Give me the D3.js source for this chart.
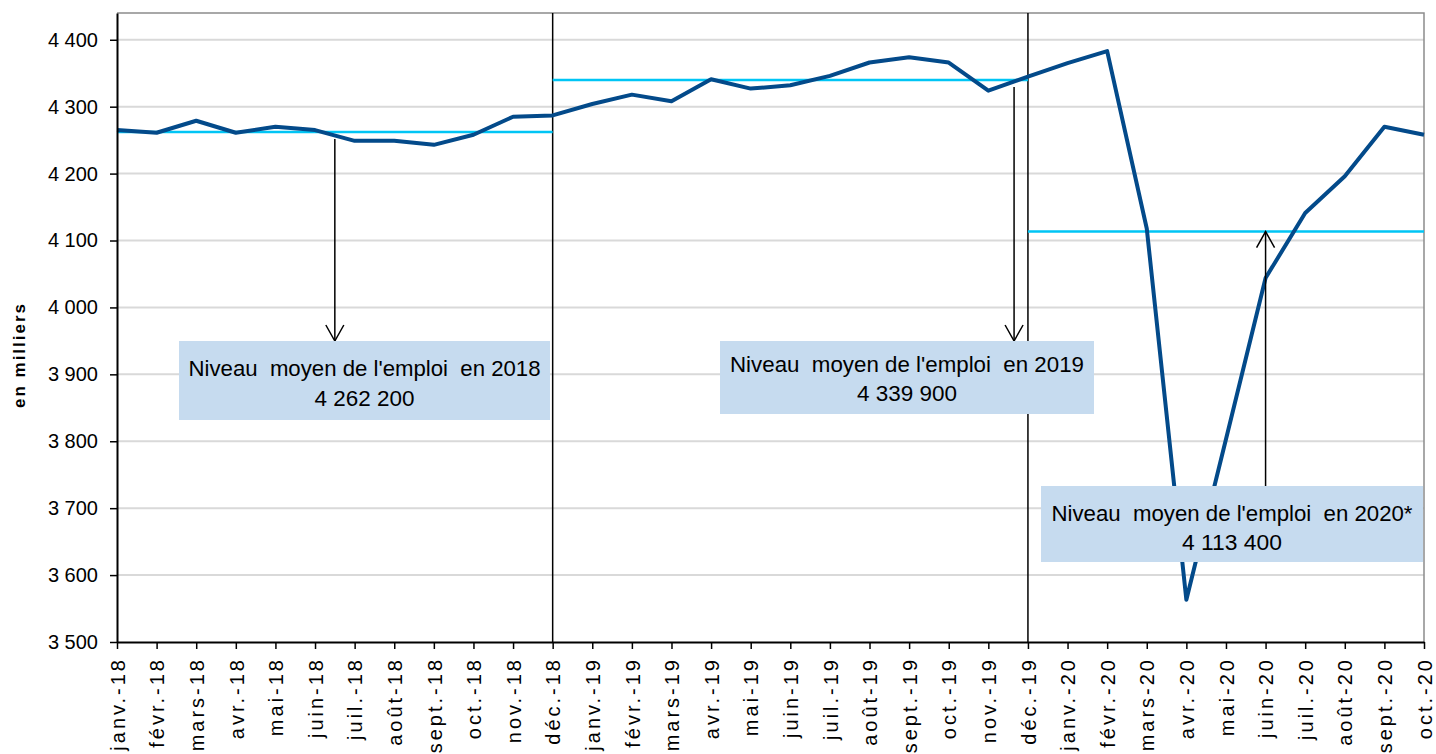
<!DOCTYPE html>
<html>
<head>
<meta charset="utf-8">
<script src="https://cdn.jsdelivr.net/npm/d3@7"></script>
<style>
  body { margin: 0; background: #fff; }
  svg { font-family: "Liberation Sans", Arial, sans-serif; }
</style>
</head>
<body>
<svg id="chart" width="1436" height="754"></svg>
<script>
const months = ["janv.-18","févr.-18","mars-18","avr.-18","mai-18","juin-18","juil.-18","août-18","sept.-18","oct.-18","nov.-18","déc.-18",
  "janv.-19","févr.-19","mars-19","avr.-19","mai-19","juin-19","juil.-19","août-19","sept.-19","oct.-19","nov.-19","déc.-19",
  "janv.-20","févr.-20","mars-20","avr.-20","mai-20","juin-20","juil.-20","août-20","sept.-20","oct.-20"];
const emploi = [4265,4261,4279,4261,4270,4265,4249,4249,4243,4258,4285,4287,
  4304,4318,4308,4341,4327,4332,4346,4366,4374,4366,4324,4345,
  4365,4383,4118,3563,3803,4044,4141,4196,4270,4258];
const yTicks = [3500,3600,3700,3800,3900,4000,4100,4200,4300,4400];
const separations = ["déc.-18","déc.-19"];
const annees = ["2018","2019","2020*"];
const moyennes = [4262.2, 4339.9, 4113.4];
const debuts = ["janv.-18","déc.-18","déc.-19"];
const fins = ["déc.-18","déc.-19","oct.-20"];

const fr = d3.formatLocale({decimal: ",", thousands: " ", grouping: [3], currency: ["", " €"]});
const fmt = fr.format(",");

const svg = d3.select("#chart");
const pLeft = 117, pRight = 1424, pTop = 13, pBottom = 642;

const x = d3.scalePoint().domain(months).range([pLeft, pRight]);
const y = d3.scaleLinear().domain([3500, 4440]).range([pBottom, pTop]);

// grille
svg.append("g").selectAll("line")
  .data(yTicks.slice(1))
  .enter().append("line")
  .attr("x1", pLeft).attr("x2", pRight)
  .attr("y1", d => y(d)).attr("y2", d => y(d))
  .attr("stroke", "#d9d9d9").attr("stroke-width", 2);

// cadre haut / droit
svg.append("path")
  .attr("d", `M${pLeft},${pTop}H${pRight}V${pBottom}`)
  .attr("fill", "none").attr("stroke", "#8c8c8c").attr("stroke-width", 1.5);

// séparations annuelles
svg.append("g").selectAll("line")
  .data(separations)
  .enter().append("line")
  .attr("x1", d => x(d)).attr("x2", d => x(d))
  .attr("y1", pTop).attr("y2", pBottom)
  .attr("stroke", "#000").attr("stroke-width", 1.5);

// moyennes annuelles
svg.append("g").selectAll("line")
  .data(moyennes)
  .enter().append("line")
  .attr("x1", (d, i) => x(debuts[i])).attr("x2", (d, i) => x(fins[i]))
  .attr("y1", d => y(d)).attr("y2", d => y(d))
  .attr("stroke", "#00c5f5").attr("stroke-width", 2.5);

// série
const line = d3.line().x((d, i) => x(months[i])).y(d => y(d));
svg.append("path")
  .datum(emploi)
  .attr("d", line)
  .attr("fill", "none")
  .attr("stroke", "#034a8a")
  .attr("stroke-width", 4)
  .attr("stroke-linejoin", "round");

// axes
const yAxis = svg.append("g")
  .attr("transform", `translate(${pLeft},0)`)
  .call(d3.axisLeft(y).tickValues(yTicks).tickFormat(fmt).tickSize(7).tickSizeOuter(0).tickPadding(12));
yAxis.select(".domain").attr("stroke", "#000").attr("stroke-width", 2);
yAxis.selectAll(".tick line").attr("stroke", "#000").attr("stroke-width", 1.5);
yAxis.selectAll("text")
  .attr("font-family", "Liberation Sans, Arial, sans-serif")
  .attr("font-size", 20).attr("fill", "#000");

const xAxis = svg.append("g")
  .attr("transform", `translate(0,${pBottom})`)
  .call(d3.axisBottom(x).tickSize(7).tickSizeOuter(0));
xAxis.select(".domain").attr("stroke", "#000").attr("stroke-width", 2);
xAxis.selectAll(".tick line").attr("stroke", "#000").attr("stroke-width", 1.5);
xAxis.selectAll("text")
  .attr("font-family", "Liberation Sans, Arial, sans-serif")
  .attr("font-size", 20).attr("fill", "#000")
  .attr("letter-spacing", "3px")
  .attr("transform", "rotate(-90)")
  .attr("x", -15).attr("y", 0).attr("dy", "0.36em")
  .style("text-anchor", "end");

svg.append("text")
  .attr("transform", "translate(25,355) rotate(-90)")
  .attr("text-anchor", "middle")
  .attr("font-size", 17).attr("font-weight", "bold")
  .attr("letter-spacing", "2px")
  .text("en milliers");

// annotations
const boites = [
  {x0: 179, x1: 550, y0: 341, y1: 420, l1: 368, l2: 398, w: 352, ax: x(months[5]) + x.step() * 0.5, dir: "down"},
  {x0: 720, x1: 1094, y0: 341, y1: 414, l1: 364, l2: 393, w: 354, ax: x(months[22]) + x.step() * 0.65, dir: "down"},
  {x0: 1041, x1: 1423, y0: 486, y1: 562, l1: 513, l2: 542, w: 361, ax: x(months[29]), dir: "up"}
];

boites.forEach((b, i) => {
  const g = svg.append("g");
  const yMoy = y(moyennes[i]);
  let y0, y1;
  if (b.dir === "down") { y0 = yMoy + 7; y1 = b.y0; } else { y0 = b.y0; y1 = yMoy; }
  g.append("line")
    .attr("x1", b.ax).attr("x2", b.ax).attr("y1", y0).attr("y2", y1)
    .attr("stroke", "#000").attr("stroke-width", 1.5);
  const s = b.dir === "down" ? -1 : 1;
  g.append("path")
    .attr("d", `M${b.ax - 9},${y1 + s * 16}L${b.ax},${y1}L${b.ax + 9},${y1 + s * 16}`)
    .attr("fill", "none").attr("stroke", "#000").attr("stroke-width", 1.5);

  g.append("rect")
    .attr("x", b.x0).attr("y", b.y0)
    .attr("width", b.x1 - b.x0).attr("height", b.y1 - b.y0)
    .attr("fill", "#c6dbef");
  const cx = (b.x0 + b.x1) / 2;
  g.append("text")
    .attr("x", cx).attr("y", b.l1).attr("dy", "0.36em")
    .attr("text-anchor", "middle").attr("font-size", 22)
    .attr("textLength", b.w).attr("lengthAdjust", "spacingAndGlyphs")
    .style("white-space", "pre")
    .text("Niveau  moyen de l'emploi  en " + annees[i]);
  g.append("text")
    .attr("x", cx).attr("y", b.l2).attr("dy", "0.36em")
    .attr("text-anchor", "middle").attr("font-size", 22)
    .attr("textLength", 100).attr("lengthAdjust", "spacingAndGlyphs")
    .style("white-space", "pre")
    .text(fmt(Math.round(moyennes[i] * 1000)));
});
</script>
</body>
</html>
